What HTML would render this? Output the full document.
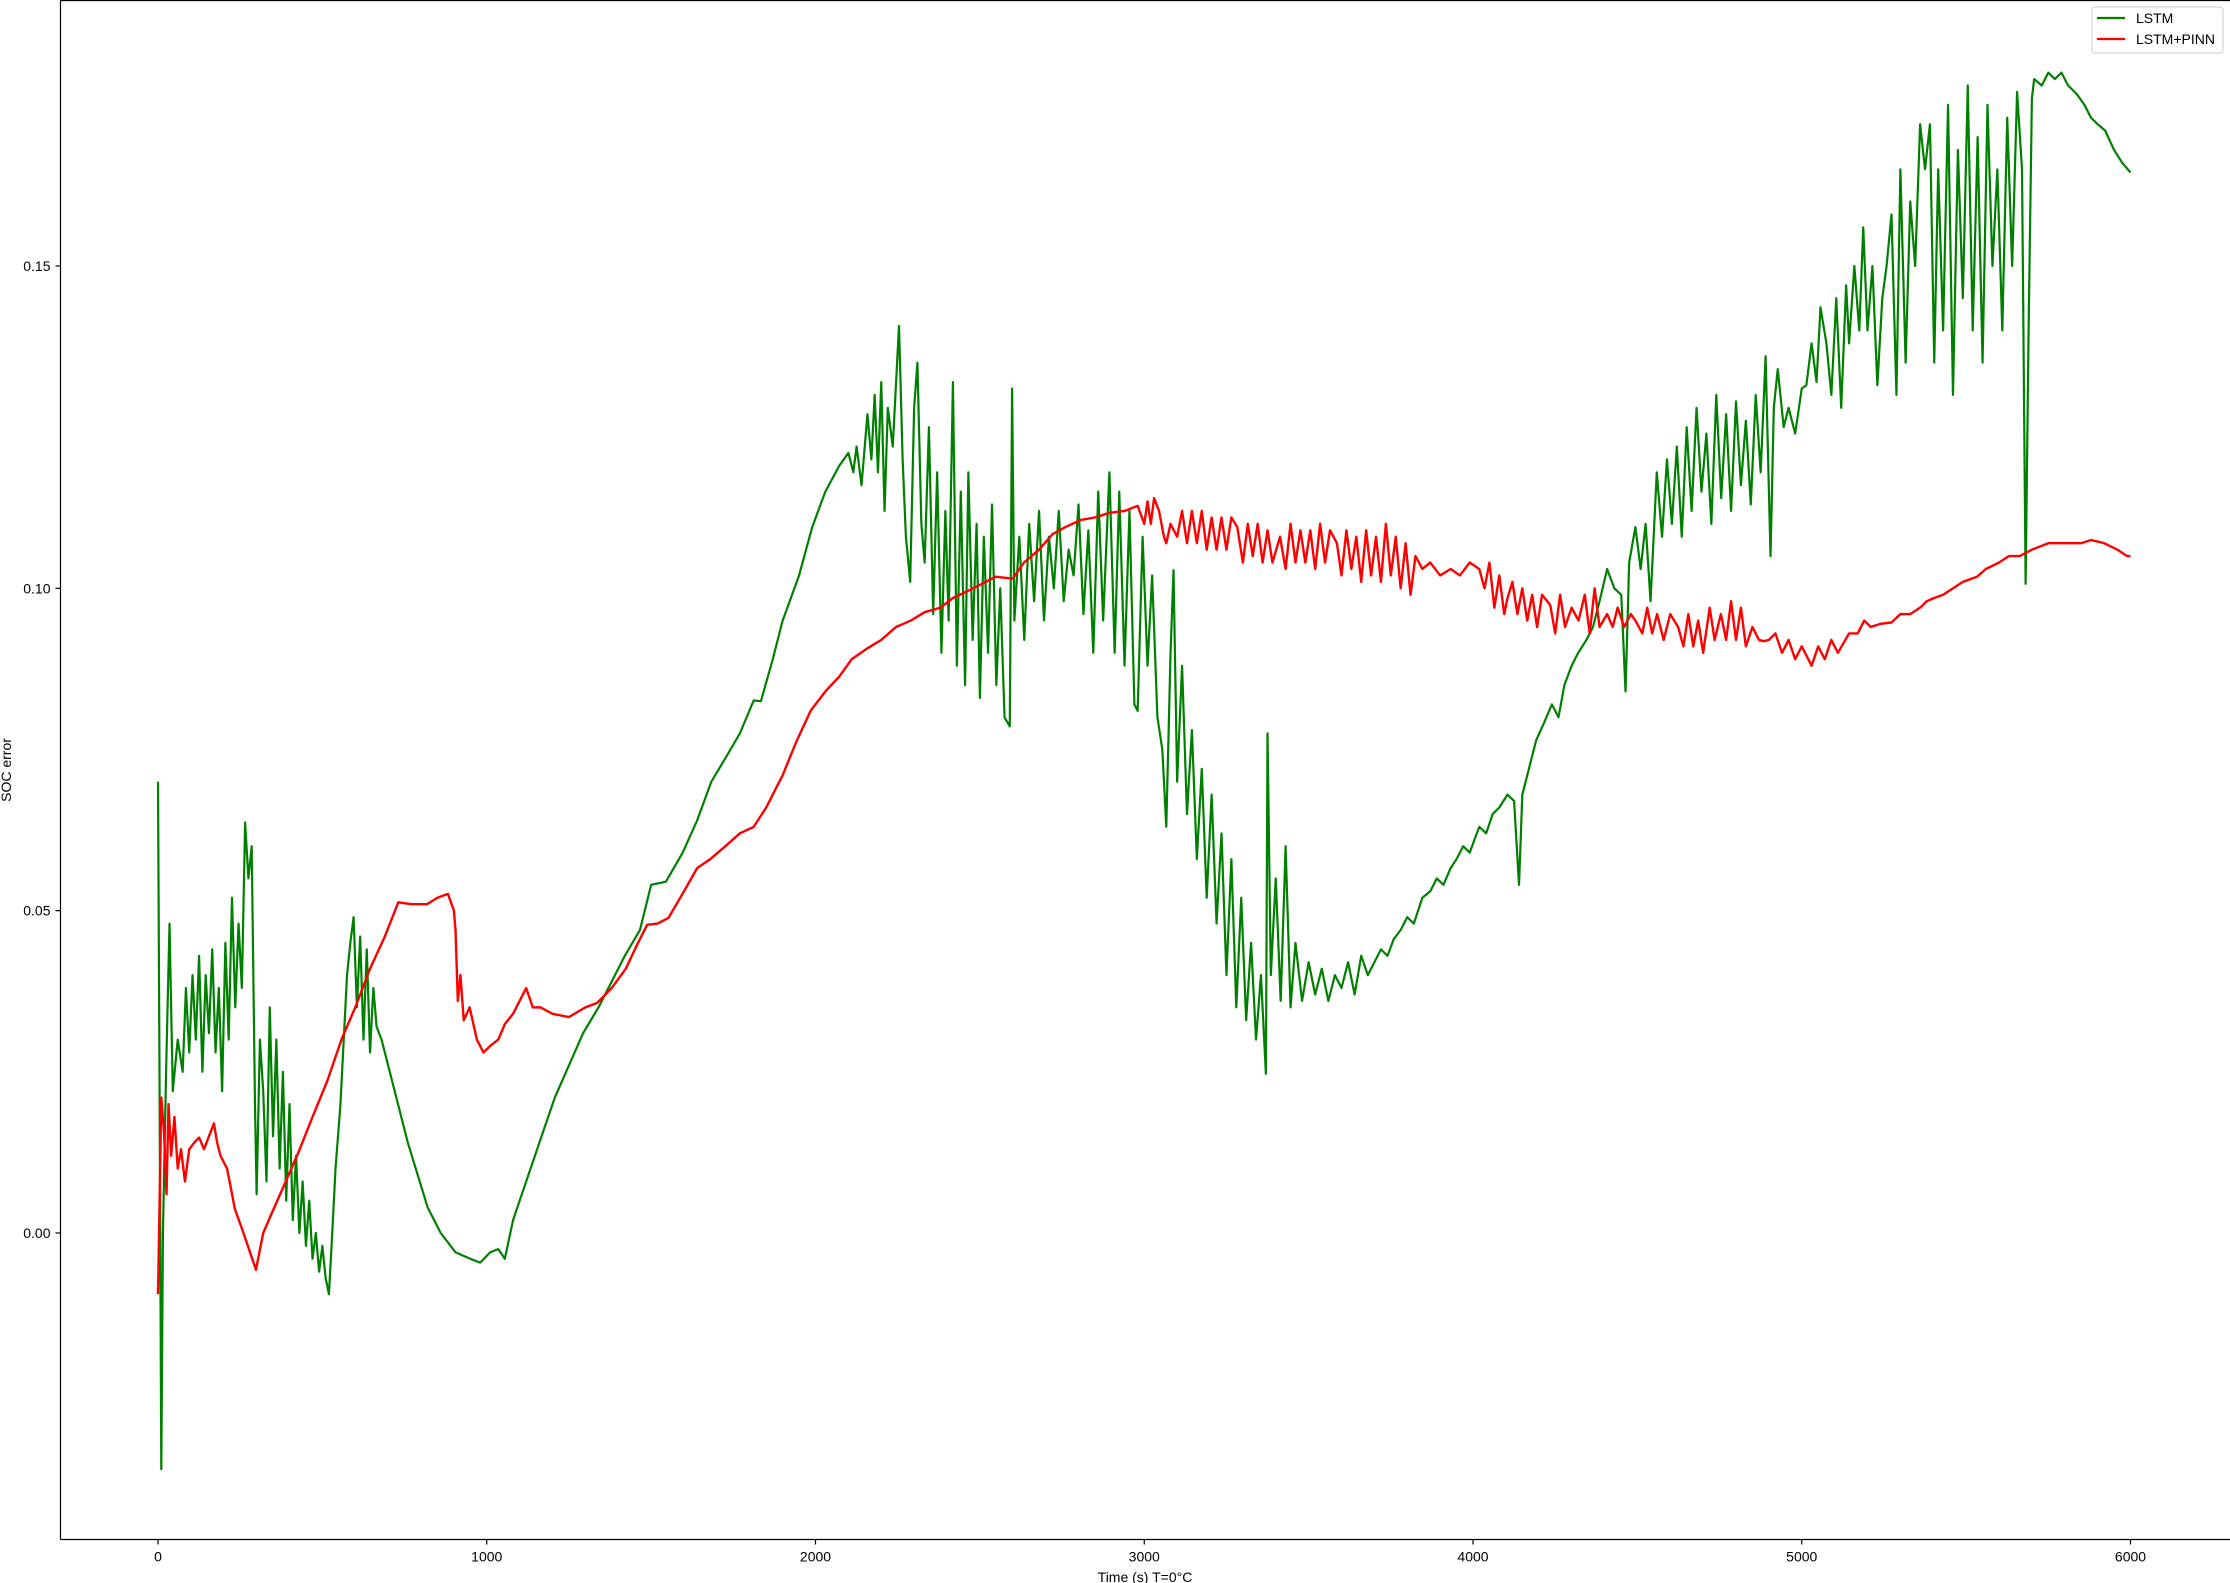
<!DOCTYPE html>
<html><head><meta charset="utf-8">
<style>
html,body{margin:0;padding:0;background:#fff;}
svg{display:block;font-family:"Liberation Sans","DejaVu Sans",sans-serif;}
</style></head>
<body>
<svg id="chart" width="2230" height="1583" viewBox="0 0 2230 1583" xmlns="http://www.w3.org/2000/svg">
  <rect x="0" y="0" width="2230" height="1583" fill="#fff"/>
  <g id="plot"></g>
  <g id="axes"></g>
  <text x="1145" y="1582" font-size="14" text-anchor="middle">Time (s) T=0°C</text>
  <text x="11" y="770" font-size="14" text-anchor="middle" transform="rotate(-90 11 770)">SOC error</text>
  <g>
    <rect x="2092" y="7" width="131" height="46" rx="3" fill="#fff" fill-opacity="0.8" stroke="#ccc" stroke-width="1"/>
    <line x1="2097" y1="18" x2="2125" y2="18" stroke="#008000" stroke-width="2.2"/>
    <text x="2136" y="23" font-size="14">LSTM</text>
    <line x1="2097" y1="39" x2="2125" y2="39" stroke="#ff0000" stroke-width="2.2"/>
    <text x="2136" y="44" font-size="14">LSTM+PINN</text>
  </g>
</svg>
<script>
const xTicks = [0,1000,2000,3000,4000,5000,6000];
const xTickLabels = ["0","1000","2000","3000","4000","5000","6000"];
const yTicks = [0,0.05,0.10,0.15];
const yTickLabels = ["0.00","0.05","0.10","0.15"];

const lstmT = [0,5,10,15,25,35,45,60,75,85,95,105,115,125,135,145,155,165,175,185,195,205,215,225,235,245,255,265,275,285,295,300,310,320,330,340,350,360,370,380,390,400,410,420,430,440,450,460,470,480,490,500,510,520,530,540,555,565,575,585,595,605,615,625,635,645,655,665,680,700,730,760,790,820,860,905,950,980,1010,1035,1055,1080,1120,1160,1207,1250,1293,1340,1380,1420,1466,1500,1545,1596,1640,1683,1730,1770,1812,1834,1870,1900,1950,1990,2030,2072,2100,2115,2125,2140,2158,2170,2180,2190,2200,2210,2220,2235,2254,2265,2275,2288,2300,2310,2322,2332,2345,2358,2370,2383,2395,2405,2418,2430,2442,2455,2465,2478,2490,2500,2512,2525,2537,2550,2562,2575,2591,2598,2605,2620,2635,2650,2665,2680,2695,2710,2725,2740,2755,2770,2785,2800,2815,2830,2845,2860,2875,2894,2910,2924,2940,2955,2970,2980,2995,3010,3024,3040,3055,3067,3080,3089,3100,3115,3130,3145,3160,3175,3190,3205,3220,3235,3250,3265,3280,3295,3310,3325,3340,3355,3370,3375,3385,3400,3415,3430,3445,3460,3480,3500,3520,3540,3560,3580,3600,3620,3640,3660,3680,3700,3720,3740,3759,3780,3800,3820,3846,3870,3890,3910,3932,3950,3970,3990,4019,4040,4060,4080,4105,4125,4140,4150,4170,4192,4215,4240,4260,4278,4300,4320,4345,4365,4385,4408,4430,4451,4464,4475,4494,4510,4525,4540,4559,4575,4590,4605,4620,4635,4650,4665,4680,4695,4710,4725,4740,4755,4770,4785,4800,4815,4830,4845,4860,4875,4890,4905,4915,4927,4945,4960,4980,5000,5014,5030,5045,5057,5075,5090,5105,5120,5135,5144,5160,5175,5187,5200,5215,5230,5245,5258,5273,5288,5300,5316,5330,5345,5360,5375,5390,5403,5415,5430,5445,5460,5475,5490,5505,5520,5535,5550,5565,5580,5595,5610,5625,5640,5655,5670,5681,5690,5700,5707,5730,5750,5770,5790,5810,5836,5860,5880,5900,5923,5950,5975,6000];
const lstmV = [0.070,0.020,-0.0366,0.000,0.026,0.048,0.022,0.030,0.025,0.038,0.028,0.040,0.030,0.043,0.025,0.040,0.031,0.044,0.028,0.038,0.022,0.045,0.030,0.052,0.035,0.048,0.038,0.0637,0.055,0.060,0.020,0.006,0.030,0.022,0.008,0.035,0.015,0.030,0.010,0.025,0.005,0.020,0.002,0.012,0.000,0.008,-0.002,0.005,-0.004,0.000,-0.006,-0.002,-0.007,-0.0095,0.000,0.010,0.020,0.030,0.040,0.045,0.049,0.035,0.046,0.030,0.044,0.028,0.038,0.032,0.030,0.026,0.020,0.014,0.009,0.004,0.000,-0.003,-0.004,-0.0046,-0.003,-0.0025,-0.004,0.002,0.008,0.014,0.021,0.026,0.031,0.035,0.039,0.043,0.047,0.054,0.0545,0.059,0.064,0.070,0.074,0.0775,0.0826,0.0825,0.089,0.095,0.102,0.1095,0.115,0.119,0.121,0.118,0.122,0.116,0.127,0.120,0.130,0.118,0.132,0.112,0.128,0.122,0.1407,0.120,0.108,0.101,0.128,0.135,0.110,0.104,0.125,0.096,0.118,0.090,0.112,0.095,0.132,0.088,0.115,0.085,0.118,0.092,0.110,0.083,0.108,0.090,0.113,0.085,0.100,0.080,0.0786,0.131,0.095,0.108,0.092,0.110,0.098,0.112,0.095,0.108,0.100,0.112,0.098,0.106,0.102,0.113,0.096,0.109,0.090,0.115,0.095,0.118,0.090,0.115,0.088,0.112,0.082,0.081,0.108,0.088,0.102,0.080,0.075,0.063,0.090,0.1028,0.070,0.088,0.065,0.078,0.058,0.072,0.052,0.068,0.048,0.062,0.040,0.058,0.035,0.052,0.033,0.045,0.030,0.040,0.0247,0.0775,0.040,0.055,0.036,0.060,0.035,0.045,0.036,0.042,0.037,0.041,0.036,0.040,0.038,0.042,0.037,0.043,0.040,0.042,0.044,0.043,0.0456,0.047,0.049,0.048,0.052,0.053,0.055,0.054,0.0566,0.058,0.060,0.059,0.063,0.062,0.065,0.066,0.068,0.067,0.054,0.068,0.072,0.0764,0.079,0.082,0.080,0.085,0.088,0.090,0.092,0.094,0.098,0.103,0.100,0.099,0.084,0.104,0.1095,0.103,0.110,0.098,0.118,0.108,0.120,0.110,0.122,0.108,0.125,0.112,0.128,0.115,0.124,0.110,0.130,0.114,0.127,0.112,0.129,0.116,0.126,0.113,0.130,0.118,0.136,0.105,0.128,0.134,0.125,0.128,0.124,0.131,0.1315,0.138,0.132,0.1436,0.138,0.130,0.145,0.128,0.147,0.138,0.150,0.140,0.156,0.140,0.150,0.1315,0.145,0.150,0.158,0.130,0.165,0.135,0.160,0.150,0.172,0.165,0.172,0.135,0.165,0.140,0.175,0.130,0.168,0.145,0.178,0.140,0.170,0.135,0.175,0.150,0.165,0.140,0.173,0.150,0.177,0.165,0.1007,0.140,0.176,0.179,0.178,0.180,0.179,0.180,0.178,0.1767,0.175,0.173,0.172,0.171,0.168,0.166,0.1645];

const pinnT = [0,5,10,18,26,32,40,50,60,70,82,95,110,125,140,155,170,180,190,210,234,260,280,298,320,342,380,428,470,515,558,600,645,690,731,770,818,850,882,900,905,912,920,930,948,970,990,1010,1035,1055,1080,1100,1120,1140,1163,1200,1250,1300,1336,1380,1423,1460,1488,1520,1553,1600,1640,1680,1726,1770,1812,1850,1900,1940,1985,2030,2072,2110,2158,2200,2245,2290,2332,2380,2418,2480,2548,2600,2634,2680,2721,2760,2807,2850,2894,2940,2980,3000,3010,3020,3030,3045,3060,3067,3080,3100,3115,3130,3145,3160,3175,3190,3205,3220,3235,3250,3265,3283,3300,3315,3330,3345,3360,3375,3390,3413,3430,3445,3460,3475,3490,3505,3520,3535,3550,3565,3586,3600,3615,3630,3645,3660,3675,3690,3705,3720,3735,3750,3765,3780,3795,3810,3825,3846,3870,3900,3932,3960,3990,4019,4035,4050,4065,4080,4095,4105,4120,4135,4150,4165,4180,4195,4210,4235,4250,4265,4280,4300,4321,4340,4355,4370,4385,4408,4425,4440,4460,4480,4494,4515,4530,4545,4560,4580,4600,4624,4640,4655,4670,4685,4700,4720,4735,4754,4770,4785,4800,4815,4830,4850,4870,4884,4900,4920,4940,4960,4980,5000,5014,5030,5050,5070,5090,5110,5144,5170,5190,5210,5240,5273,5300,5330,5360,5380,5403,5430,5460,5490,5533,5560,5600,5630,5663,5700,5750,5800,5850,5880,5920,5960,5990,6000];
const pinnV = [-0.0095,0.005,0.021,0.016,0.006,0.020,0.012,0.018,0.010,0.013,0.008,0.013,0.014,0.0148,0.013,0.015,0.017,0.014,0.012,0.010,0.0037,0.000,-0.003,-0.0057,0.000,0.0026,0.007,0.0126,0.018,0.0236,0.030,0.035,0.041,0.046,0.0513,0.051,0.051,0.052,0.0526,0.050,0.047,0.036,0.040,0.033,0.035,0.030,0.028,0.029,0.030,0.0324,0.034,0.036,0.038,0.035,0.035,0.034,0.0335,0.035,0.0357,0.038,0.041,0.045,0.0478,0.048,0.0489,0.053,0.0566,0.058,0.060,0.062,0.063,0.066,0.071,0.076,0.081,0.084,0.0863,0.089,0.0907,0.092,0.094,0.095,0.0963,0.097,0.0985,0.100,0.1018,0.1015,0.104,0.106,0.1084,0.1095,0.1106,0.111,0.1117,0.112,0.1128,0.110,0.1135,0.110,0.114,0.112,0.108,0.107,0.110,0.108,0.112,0.107,0.112,0.107,0.112,0.106,0.111,0.106,0.111,0.106,0.111,0.1095,0.104,0.110,0.105,0.110,0.104,0.109,0.104,0.108,0.103,0.110,0.104,0.109,0.104,0.109,0.103,0.110,0.104,0.109,0.107,0.102,0.109,0.103,0.108,0.101,0.109,0.102,0.108,0.101,0.110,0.102,0.108,0.100,0.107,0.099,0.105,0.103,0.104,0.102,0.103,0.102,0.104,0.103,0.100,0.104,0.097,0.102,0.096,0.0985,0.101,0.096,0.100,0.095,0.099,0.094,0.099,0.0974,0.093,0.099,0.094,0.097,0.095,0.099,0.093,0.100,0.094,0.096,0.094,0.097,0.094,0.096,0.095,0.093,0.097,0.093,0.096,0.092,0.096,0.094,0.091,0.096,0.091,0.095,0.090,0.097,0.092,0.096,0.092,0.098,0.092,0.097,0.091,0.094,0.092,0.0918,0.092,0.093,0.090,0.092,0.089,0.091,0.0896,0.088,0.091,0.089,0.092,0.090,0.093,0.093,0.095,0.094,0.0945,0.0947,0.096,0.096,0.097,0.098,0.0985,0.099,0.100,0.101,0.1018,0.103,0.104,0.105,0.105,0.106,0.107,0.107,0.107,0.1075,0.107,0.106,0.105,0.105];

const L = 60.5, R = 2230, T = 0.5, B = 1539.5;
const X0 = 158, XPER = (2130.5 - 158) / 6000;
const Y0 = 1233, YPER = (1233 - 266) / 0.15;
function sx(t){ return X0 + t * XPER; }
function sy(v){ return Y0 - v * YPER; }

const NS = "http://www.w3.org/2000/svg";
const plot = document.getElementById('plot');
const axes = document.getElementById('axes');

function mkPath(ts, vs, color, w, name){
  let d = '';
  for (let i = 0; i < ts.length; i++) {
    d += (i ? 'L' : 'M') + sx(ts[i]).toFixed(2) + ' ' + sy(vs[i]).toFixed(2);
  }
  const p = document.createElementNS(NS, 'path');
  p.setAttribute('d', d);
  p.setAttribute('fill', 'none');
  p.setAttribute('stroke', color);
  p.setAttribute('stroke-width', w);
  p.setAttribute('stroke-linejoin', 'round');
  
  
  plot.appendChild(p);
}
mkPath(lstmT, lstmV, '#008000', 2.2, 'series-lstm');
mkPath(pinnT, pinnV, '#ff0000', 2.4, 'series-lstm-pinn');

const frame = document.createElementNS(NS, 'path');
frame.setAttribute('d', `M${L} ${B}L${L} ${T}L${R} ${T}M${L} ${B}L${R} ${B}`);
frame.setAttribute('fill', 'none');
frame.setAttribute('stroke', '#000');
frame.setAttribute('stroke-width', '1.2');


axes.appendChild(frame);

xTicks.forEach((t, i) => {
  const x = sx(t);
  const ln = document.createElementNS(NS, 'line');
  ln.setAttribute('x1', x); ln.setAttribute('x2', x);
  ln.setAttribute('y1', B); ln.setAttribute('y2', B + 5);
  ln.setAttribute('stroke', '#000'); ln.setAttribute('stroke-width', '1.2');
  
  
  axes.appendChild(ln);
  const tx = document.createElementNS(NS, 'text');
  tx.setAttribute('x', x); tx.setAttribute('y', B + 22);
  tx.setAttribute('font-size', '14'); tx.setAttribute('text-anchor', 'middle');
  tx.textContent = xTickLabels[i];
  
  
  axes.appendChild(tx);
});
yTicks.forEach((v, i) => {
  const y = sy(v);
  const ln = document.createElementNS(NS, 'line');
  ln.setAttribute('x1', L - 5); ln.setAttribute('x2', L);
  ln.setAttribute('y1', y); ln.setAttribute('y2', y);
  ln.setAttribute('stroke', '#000'); ln.setAttribute('stroke-width', '1.2');
  
  
  axes.appendChild(ln);
  const tx = document.createElementNS(NS, 'text');
  tx.setAttribute('x', L - 10); tx.setAttribute('y', y + 5);
  tx.setAttribute('font-size', '14'); tx.setAttribute('text-anchor', 'end');
  tx.textContent = yTickLabels[i];
  
  
  axes.appendChild(tx);
});
</script>
</body></html>
